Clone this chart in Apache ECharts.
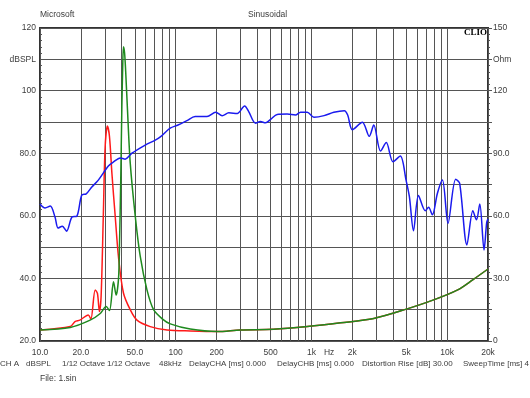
<!DOCTYPE html>
<html>
<head>
<meta charset="utf-8">
<script src="https://cdn.jsdelivr.net/npm/echarts@6/dist/echarts.min.js"></script>
<style>
  html, body { margin: 0; padding: 0; background: #fff; }
  #main { width: 530px; height: 398px; }
</style>
</head>
<body>
<div id="main"></div>
<script>
// frequency grid (Hz) and the labelled ticks under the plot
const freqGrid = [10, 20, 30, 40, 50, 60, 70, 80, 90, 100, 200, 300, 400, 500, 600, 700, 800, 900,
  1000, 2000, 3000, 4000, 5000, 6000, 7000, 8000, 9000, 10000, 20000]
const freqLabelValues = [10, 20, 50, 100, 200, 500, 1000, 1350, 2000, 5000, 10000, 20000]
const freqLabelTexts = ['10.0', '20.0', '50.0', '100', '200', '500', '1k', 'Hz', '2k', '5k', '10k', '20k']

// left axis (dBSPL) and right axis (Ohm) labels
const leftLabels = { 120: '120', 110: 'dBSPL', 100: '100', 80: '80.0', 60: '60.0', 40: '40.0', 20: '20.0' }
const rightLabels = { 150: '150', 135: 'Ohm', 120: '120', 90: '90.0', 60: '60.0', 30: '30.0', 0: '0' }

// blue: SPL response [Hz, dBSPL]
const spl = [
  [10, 63.8], [10.9, 62.5], [11.9, 63.1], [12.9, 59.6], [13.6, 56.1], [14.6, 56.7], [15.7, 55.1],
  [17.2, 59.6], [18.7, 59.9], [20.3, 66.6], [21.9, 67], [24.1, 69.2], [26.9, 71.4], [31.9, 75.9],
  [34.8, 77.2], [39, 78.5], [42.4, 78.1], [47.6, 80], [59.6, 82.6], [70.7, 84.2], [77, 85.2],
  [91, 88], [104, 89], [121, 90.4], [139, 91.7], [170, 91.7], [197, 93.1], [220, 92], [246, 92.9],
  [284, 92.7], [322, 95.1], [345, 93.3], [387, 89.6], [421, 90.1], [459, 89.7], [500, 90.8],
  [559, 92.4], [662, 92.5], [763, 92.2], [831, 93.1], [932, 93.1], [1043, 91.5], [1239, 92],
  [1462, 93.1], [1748, 93.6], [1850, 92.2], [2002, 87.5], [2374, 89.9], [2667, 85.4], [2880, 89],
  [3230, 80.7], [3560, 83.4], [3990, 77.3], [4520, 79.1], [4980, 71.4], [5270, 66.1], [5650, 55.2],
  [6150, 66.5], [6900, 61.6], [7300, 62.7], [7780, 60.3], [8480, 67.2], [9230, 71.4], [10150, 57.6],
  [11550, 71.7], [12360, 70.4], [13980, 50.7], [15470, 61.6], [16440, 58.7], [17400, 63.8],
  [18700, 49.1], [19560, 57.8], [20000, 59]
]

// red: impedance [Hz, Ohm]
const impRed = [
  [10, 5.3], [16.7, 6.9], [18.1, 9.3], [19.7, 10], [22.7, 12.5], [23.7, 10.5], [25.5, 24.5],
  [26.5, 22.8], [27.4, 14.1], [28.2, 21.3], [29.3, 61], [30.2, 93], [31.4, 103], [32.5, 98],
  [33.9, 80], [35.8, 60], [37.9, 40], [41.2, 23], [46.2, 15], [51.8, 10], [64.9, 6.9], [86.3, 5.3],
  [128, 4.8], [202, 4.5], [300, 5.3], [526, 5.6], [933, 6.9], [1644, 8.7], [2880, 10.8],
  [4800, 14.9], [7950, 19.7], [11960, 24.5], [15430, 29.3], [20000, 34.5]
]

// green: impedance [Hz, Ohm]
const impGreen = [
  [10, 5.3], [16.7, 6.5], [23.4, 10], [27.8, 13.2], [30.7, 16.5], [32.5, 14.6], [34.8, 28.4],
  [36.4, 22], [37.9, 30], [38.5, 45], [39.3, 75], [40.1, 112], [40.7, 132], [41.2, 141], [42, 138],
  [42.8, 129], [44.1, 111], [46.2, 85.5], [50.3, 60], [54.8, 40.5], [61.4, 24.5], [68.7, 15],
  [80, 10.5], [91.2, 8.2], [128, 5.7], [202, 4.5], [300, 5.3], [526, 5.6], [933, 6.9], [1644, 8.7],
  [2880, 10.8], [4800, 14.9], [7950, 19.7], [11960, 24.5], [15430, 29.3], [20000, 34.5]
]

const txtColor = '#3c3c3c'
const font = 'Liberation Sans'
const fs = 8.5

// footer line: [text, left x]
const footer = [
  ['CH A', 0], ['dBSPL', 26], ['1/12 Octave', 62], ['1/12 Octave', 107], ['48kHz', 159],
  ['DelayCHA [ms] 0.000', 189], ['DelayCHB [ms] 0.000', 277], ['Distortion Rise [dB] 30.00', 362],
  ['SweepTime [ms] 4', 463]
]

var chart = echarts.init(document.getElementById('main'))

var graphics = [
  { type: 'text', left: 40, top: 10, style: { text: 'Microsoft', fill: txtColor, font: fs + 'px ' + font } },
  { type: 'text', left: 248, top: 10, style: { text: 'Sinusoidal', fill: txtColor, font: fs + 'px ' + font } },
  { type: 'text', right: 43, top: 28, style: { text: 'CLIO', fill: '#000', font: 'bold 9px Liberation Serif' } },
  { type: 'text', left: 40, top: 374, style: { text: 'File: 1.sin', fill: txtColor, font: fs + 'px ' + font } }
]
footer.forEach(function (f) {
  graphics.push({ type: 'text', left: f[1], top: 360, style: { text: f[0], fill: txtColor, font: '8px ' + font } })
})

var option = {
  animation: false,
  backgroundColor: '#fff',
  grid: {
    left: 40, right: 42, top: 28, bottom: 57,
    show: true, borderColor: '#333', borderWidth: 2
  },
  xAxis: {
    type: 'log', logBase: 10, min: 10, max: 20000,
    axisLine: { show: false },
    axisTick: { show: false, customValues: freqGrid },
    splitLine: { show: true, lineStyle: { color: '#555', width: 1 } },
    axisLabel: {
      customValues: freqLabelValues,
      color: txtColor, fontFamily: font, fontSize: fs, margin: 7,
      formatter: function (v) {
        const i = freqLabelValues.findIndex(f => Math.abs(f - v) / f < 0.01)
        return i >= 0 ? freqLabelTexts[i] : ''
      }
    }
  },
  yAxis: [
    {
      type: 'value', min: 20, max: 120, interval: 10,
      axisLine: { show: false },
      axisTick: { show: true, inside: true, length: 4, lineStyle: { color: '#555' } },
      minorTick: { show: true, splitNumber: 5, length: 2, lineStyle: { color: '#555' } },
      splitLine: { show: true, lineStyle: { color: '#555', width: 1 } },
      axisLabel: {
        color: txtColor, fontFamily: font, fontSize: fs, margin: 4,
        formatter: v => leftLabels[Math.round(v)] || ''
      }
    },
    {
      type: 'value', min: 0, max: 150, interval: 15,
      axisLine: { show: false },
      axisTick: { show: true, length: 4, lineStyle: { color: '#555' } },
      minorTick: { show: true, splitNumber: 5, length: 2, lineStyle: { color: '#555' } },
      splitLine: { show: false },
      axisLabel: {
        color: txtColor, fontFamily: font, fontSize: fs, margin: 5,
        formatter: v => rightLabels[Math.round(v)] || ''
      }
    }
  ],
  series: [
    {
      name: 'red', type: 'line', yAxisIndex: 1, data: impRed,
      showSymbol: false, smooth: 0.3,
      lineStyle: { color: '#ff1a1a', width: 1.5 }
    },
    {
      name: 'green', type: 'line', yAxisIndex: 1, data: impGreen,
      showSymbol: false, smooth: 0.3,
      lineStyle: { color: '#1e8a1e', width: 1.5 }
    },
    {
      name: 'blue', type: 'line', yAxisIndex: 0, data: spl,
      showSymbol: false, smooth: 0.3,
      lineStyle: { color: '#1a1aee', width: 1.5 }
    }
  ],
  graphic: graphics
}
chart.setOption(option)
</script>
</body>
</html>
